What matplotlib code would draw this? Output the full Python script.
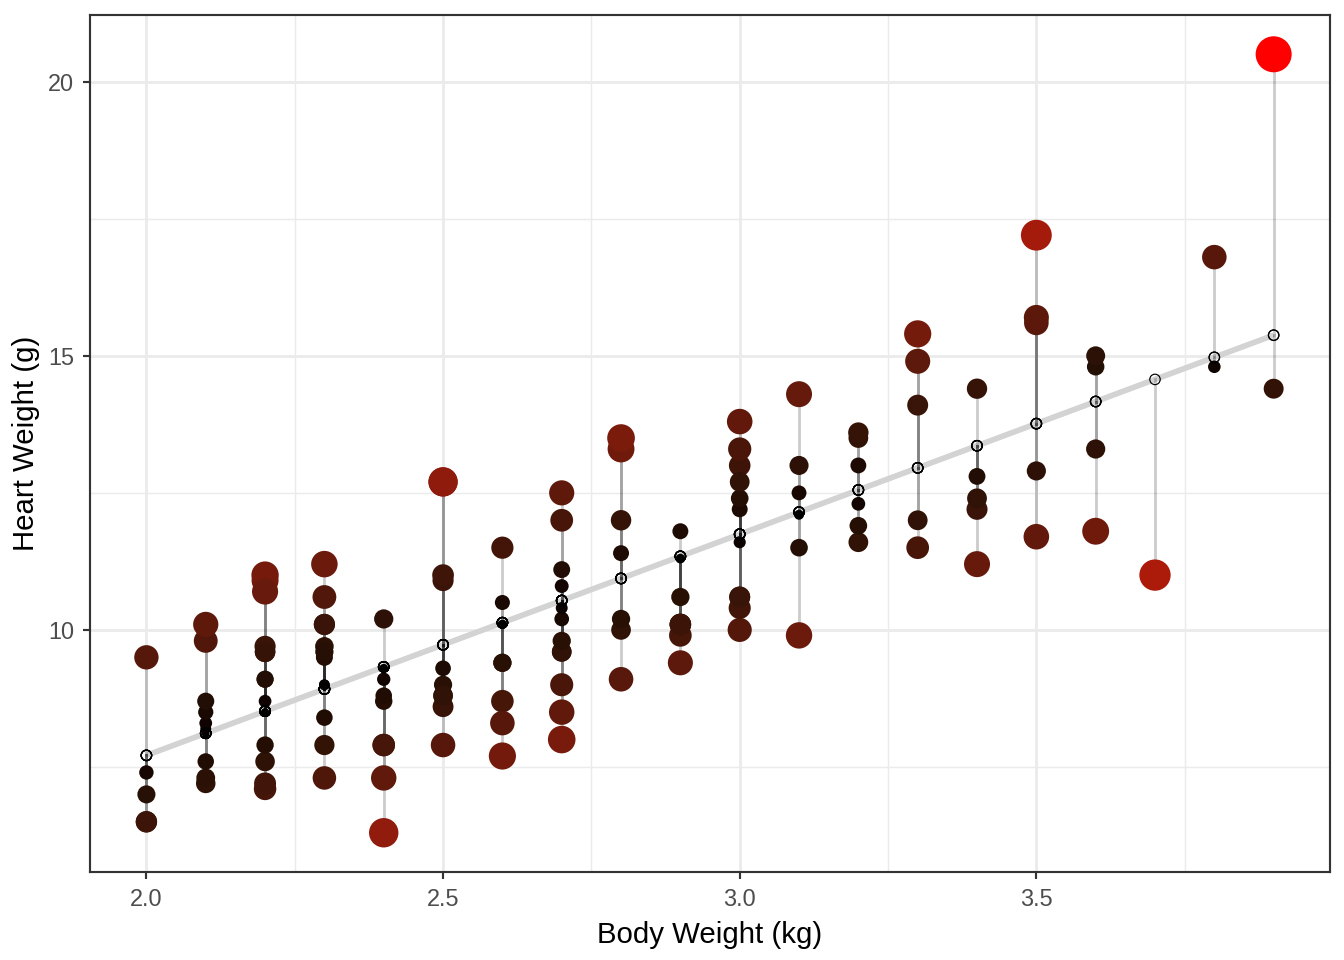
import numpy as np
import matplotlib
matplotlib.use("Agg")
import matplotlib.pyplot as plt

plt.rcParams['font.family'] = ['Liberation Sans', 'DejaVu Sans']

# MASS::cats data (body weight kg, heart weight g)
bwt = [2.0,2.0,2.0,2.1,2.1,2.1,2.1,2.1,2.1,2.1,2.1,2.1,2.2,2.2,2.2,2.2,2.2,2.2,
       2.3,2.3,2.3,2.3,2.3,2.3,2.3,2.3,2.3,2.3,2.3,2.3,2.4,2.4,2.4,2.4,2.5,2.5,
       2.6,2.6,2.6,2.7,2.7,2.7,2.9,2.9,2.9,3.0,3.0,
       2.0,2.0,2.1,2.2,2.2,2.2,2.2,2.2,2.2,2.2,2.2,2.3,2.4,2.4,2.4,2.4,2.4,
       2.5,2.5,2.5,2.5,2.5,2.5,2.5,2.5,2.6,2.6,2.6,2.6,2.6,2.6,
       2.7,2.7,2.7,2.7,2.7,2.7,2.7,2.7,2.7,2.8,2.8,2.8,2.8,2.8,2.8,2.8,
       2.9,2.9,2.9,2.9,2.9,3.0,3.0,3.0,3.0,3.0,3.0,3.0,3.0,3.0,
       3.1,3.1,3.1,3.1,3.1,3.1,3.2,3.2,3.2,3.2,3.2,3.2,3.3,3.3,3.3,3.3,3.3,
       3.4,3.4,3.4,3.4,3.4,3.5,3.5,3.5,3.5,3.5,3.6,3.6,3.6,3.6,3.7,3.8,3.8,3.9,3.9]
hwt = [7.0,7.4,9.5,7.2,7.3,7.6,8.1,8.2,8.3,8.5,8.7,9.8,7.1,8.7,9.1,9.7,10.9,11.0,
       7.3,7.9,8.4,9.0,9.0,9.5,9.6,9.7,10.1,10.1,10.6,11.2,6.3,8.7,8.8,10.2,9.0,10.9,
       8.7,10.1,10.1,8.5,10.2,10.8,9.9,10.1,10.1,10.6,13.0,
       6.5,6.5,10.1,7.2,7.6,7.9,8.5,9.1,9.6,9.6,10.7,9.6,7.3,7.9,7.9,9.1,9.3,
       7.9,8.6,8.8,8.8,9.3,11.0,12.7,12.7,7.7,8.3,9.4,9.4,10.5,11.5,
       8.0,9.0,9.6,9.6,9.8,10.4,11.1,12.0,12.5,9.1,10.0,10.2,11.4,12.0,13.3,13.5,
       9.4,10.1,10.6,11.3,11.8,10.0,10.4,10.6,11.6,12.2,12.4,12.7,13.3,13.8,
       9.9,11.5,12.1,12.5,13.0,14.3,11.6,11.9,12.3,13.0,13.5,13.6,11.5,12.0,14.1,14.9,15.4,
       11.2,12.2,12.4,12.8,14.4,11.7,12.9,15.6,15.7,17.2,11.8,13.3,14.8,15.0,11.0,14.8,16.8,14.4,20.5]

x = np.array(bwt)
y = np.array(hwt)
slope, intercept = np.polyfit(x, y, 1)
pred = intercept + slope * x
absres = np.abs(y - pred)
t = (absres - absres.min()) / (absres.max() - absres.min())

# ---- Lab interpolation black -> red (like ggplot2 seq_gradient_pal)
M = np.array([[0.4124564, 0.3575761, 0.1804375],
              [0.2126729, 0.7151522, 0.0721750],
              [0.0193339, 0.1191920, 0.9503041]])
WP = np.array([0.95047, 1.0, 1.08883])

def srgb_to_lab(rgb):
    rgb = np.asarray(rgb, float)
    lin = np.where(rgb <= 0.04045, rgb / 12.92, ((rgb + 0.055) / 1.055) ** 2.4)
    r = (M @ lin) / WP
    f = np.where(r > 216/24389, np.cbrt(r), (24389/27 * r + 16) / 116)
    return np.array([116*f[1]-16, 500*(f[0]-f[1]), 200*(f[1]-f[2])])

def lab_to_srgb(lab):
    L, a, b = lab
    fy = (L + 16) / 116
    fx = fy + a / 500
    fz = fy - b / 200
    def finv(f):
        return np.where(f**3 > 216/24389, f**3, (116*f - 16) / (24389/27))
    xyz = np.array([finv(fx), finv(fy), finv(fz)]) * WP
    lin = np.clip(np.linalg.inv(M) @ xyz, 0, 1)
    rgb = np.where(lin <= 0.0031308, 12.92*lin, 1.055*lin**(1/2.4) - 0.055)
    return np.clip(rgb, 0, 1)

lab0 = srgb_to_lab([0, 0, 0])
lab1 = srgb_to_lab([1, 0, 0])
colors = [lab_to_srgb(lab0 + (lab1 - lab0) * ti) for ti in t]

# size scale: area, range 1..6 (ggplot mm) -> diameter in pt
gsize = 1 + 5 * np.sqrt(t)
diam_pt = 0.75 * (gsize * 72.27 / 25.4 + 0.5 * 96 / 25.4 / 2)
s_area = diam_pt ** 2

fig = plt.figure(figsize=(7, 5), dpi=192)
ax = fig.add_axes([0.067, 0.092, 0.9226, 0.892])

xr = x.max() - x.min()
ax.set_xlim(x.min() - 0.05*xr, x.max() + 0.05*xr)
ally = np.concatenate([y, pred])
yr = ally.max() - ally.min()
ax.set_ylim(ally.min() - 0.05*yr, ally.max() + 0.05*yr)

ax.set_xticks([2.0, 2.5, 3.0, 3.5])
ax.set_xticklabels(['2.0', '2.5', '3.0', '3.5'])
ax.set_xticks([2.25, 2.75, 3.25, 3.75], minor=True)
ax.set_yticks([10, 15, 20])
ax.set_yticks([7.5, 12.5, 17.5], minor=True)
ax.grid(which='major', color='#EBEBEB', linewidth=1.07)
ax.grid(which='minor', color='#EBEBEB', linewidth=0.53)
ax.set_axisbelow(True)
ax.tick_params(which='minor', length=0)
ax.tick_params(which='major', length=2.75, width=0.8, color='#333333',
               labelsize=8.8, labelcolor='#4D4D4D', pad=3.2)
for sp in ax.spines.values():
    sp.set_color('#333333')
    sp.set_linewidth(0.8)

xs = np.array([x.min(), x.max()])
ax.plot(xs, intercept + slope*xs, color='#D3D3D3', linewidth=2.13, solid_capstyle='butt', zorder=2)
for xi, yi, pi in zip(x, y, pred):
    ax.plot([xi, xi], [yi, pi], color='black', alpha=0.2, linewidth=1.07, zorder=3)
ax.scatter(x, y, s=s_area, c=colors, linewidths=0, zorder=4)
ax.scatter(x, pred, s=(0.75*(1.5*72.27/25.4 + 0.945))**2, facecolors='none',
           edgecolors='black', linewidths=0.45, zorder=5)

ax.set_xlabel('Body Weight (kg)', fontsize=11, labelpad=4)
ax.set_ylabel('Heart Weight (g)', fontsize=11, labelpad=3)

fig.savefig('out.png', dpi=192)
